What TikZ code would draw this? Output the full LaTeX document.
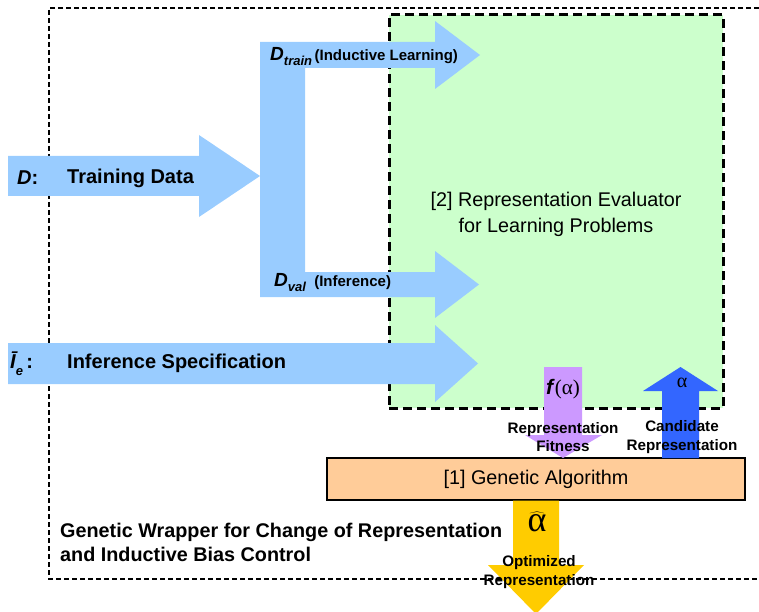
\documentclass[tikz,border=0pt]{standalone}
\usepackage{fontspec}
\setmainfont{Liberation Sans}
\newfontfamily\symf{Liberation Serif}
\definecolor{lblue}{HTML}{99CCFF}
\definecolor{lgreen}{HTML}{CCFFCC}
\definecolor{lilac}{HTML}{CC99FF}
\definecolor{dblue}{HTML}{3366FF}
\definecolor{gold}{HTML}{FFCC00}
\definecolor{peach}{HTML}{FFCC99}
\newcommand{\fs}[1]{\fontsize{#1}{#1}\selectfont}
\tikzset{
  big/.style={font=\fs{20}\bfseries, inner sep=0pt, anchor=west},
  mid/.style={font=\fs{15}\bfseries, inner sep=0pt, anchor=west},
  small/.style={font=\fs{15.2}\bfseries, align=center, inner sep=0pt},
}
\begin{document}
\begin{tikzpicture}[x=1pt,y=-1pt]
\useasboundingbox (0,0) rectangle (759,612);
\clip (0,0) rectangle (759,612);
% outer wrapper frame
\draw[line width=1.1pt, dash pattern=on 5pt off 3pt] (775,8) -- (49,8) -- (49,579) -- (775,579);
% evaluator box
\node[fill=lgreen, draw=black, line width=3pt, dash pattern=on 9pt off 5pt,
      minimum width=334pt, minimum height=393pt, inner sep=0pt] (eval) at (556,211.5) {};
\node[font=\fs{19.8}, align=center, inner sep=0pt] (evaltext) at (556,214.5)
  {[2] Representation Evaluator\\[6pt]for Learning Problems};
% GA box
\node[fill=peach, draw=black, line width=1.3pt, minimum width=418pt, minimum height=42pt,
      inner sep=0pt, font=\fs{19.8}] (ga) at (536,479) {[1] Genetic Algorithm};
% training data arrow
\fill[lblue] (8,156) -- (199,156) -- (199,135) -- (260,176) -- (199,217) -- (199,196) -- (8,196) -- cycle;
% fork
\fill[lblue] (260,42) -- (435,42) -- (435,21) -- (480,55) -- (435,89) -- (435,68) -- (305,68)
  -- (305,272) -- (435,272) -- (435,251) -- (479,284.5) -- (435,318) -- (435,297) -- (260,297) -- cycle;
% inference arrow
\fill[lblue] (8,343) -- (435,343) -- (435,325) -- (478,363.5) -- (435,402) -- (435,384) -- (8,384) -- cycle;
% fitness arrow
\fill[lilac] (544,367) -- (582,367) -- (582,435) -- (602,435) -- (563,458) -- (525,435) -- (544,435) -- cycle;
% candidate arrow
\fill[dblue] (662,458) -- (662,391) -- (643,391) -- (680.5,367) -- (718,391) -- (699,391) -- (699,458) -- cycle;
% optimized arrow
\fill[gold] (513,500.6) -- (559,500.6) -- (559,565) -- (584,565) -- (536,614) -- (488,565) -- (513,565) -- cycle;
% labels
\node[big] (dlab) at (17,178) {\itshape D\upshape:};
\node[big] (tdata) at (67,178) {Training Data};
\node[mid] (dtrain) at (270,57) {{\fs{19}\itshape D}\raisebox{-5pt}{\fs{13}\itshape train}\,(Inductive Learning)};
\node[mid] (dval) at (274,283) {{\fs{19}\itshape D}\raisebox{-5pt}{\fs{13}\itshape val}\ \ (Inference)};
\node[big] (ilab) at (10,364) {{\itshape \=I}\raisebox{-7pt}{\fs{13}\itshape e}\,:};
\node[big] (ispec) at (67,363) {Inference Specification};
\node[inner sep=0pt] (falpha) at (563,389) {{\fs{21}\bfseries\itshape f}\,{\symf\fs{21}(α)}};
\node[inner sep=0pt, font=\symf\fs{20}] (alpha) at (682,383) {α};
\node[inner sep=0pt] (ahat) at (537,522) {\fs{36}$\widehat{\hbox{\symf α}}$};
\node[small] (fit) at (563,437) {Representation\\[3pt]Fitness};
\node[small] (cand) at (682,437) {Candidate\\[3pt]Representation};
\node[small] (opt) at (539,572) {Optimized\\[3pt]Representation};
\node[font=\fs{19.8}\bfseries, anchor=north west, align=left, inner sep=0pt] (wrap) at (60,523)
  {Genetic Wrapper for Change of Representation\\[4pt]and Inductive Bias Control};
\end{tikzpicture}
\end{document}
